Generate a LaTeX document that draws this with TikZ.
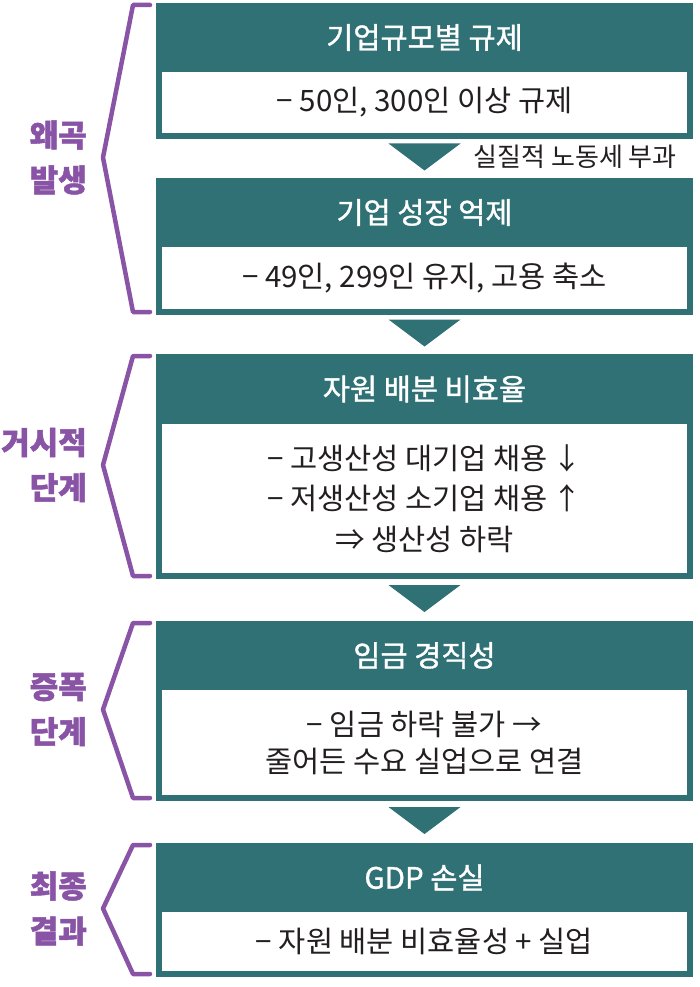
\documentclass[tikz,border=0pt]{standalone}
\usepackage{fontspec}
\setmainfont{Noto Sans CJK KR}
\newfontfamily\headfont{Noto Sans CJK KR}[FakeBold=1.2]
\newfontfamily\grpfont{Noto Sans CJK KR}[BoldFeatures={FakeBold=1.5}]
\usetikzlibrary{positioning,calc}
\definecolor{boxteal}{RGB}{47,113,116}
\definecolor{grppurple}{RGB}{137,84,166}
\definecolor{ink}{RGB}{35,31,32}
\tikzset{
  head/.style={fill=boxteal, text=white, minimum width=537pt, minimum height=69pt, inner sep=0pt, outer sep=0pt, font=\headfont\fontsize{29.5pt}{34pt}\selectfont},
  body/.style={fill=white, draw=boxteal, line width=6pt, minimum width=531pt, inner sep=0pt, outer sep=0pt, align=center, text=ink, font=\fontsize{29.5pt}{40.5pt}\selectfont},
  brk/.style={draw=grppurple, line width=4.5pt, line join=round, line cap=round},
  grp/.style={text=grppurple, align=right, inner sep=0pt, font=\grpfont\fontsize{31pt}{45pt}\selectfont\bfseries},
}
\begin{document}
\begin{tikzpicture}[x=1pt, y=-1pt]
\useasboundingbox (0,0) rectangle (700,987);
% boxes
\node[head] (h1) at (424.5,37.5) {기업규모별 규제};
\node[body, minimum height=67pt, below=-3pt of h1] (b1) {− 50인, 300인 이상 규제};
\node[head] (h2) at (424.5,212.5) {기업 성장 억제};
\node[body, minimum height=68pt, below=-3pt of h2] (b2) {− 49인, 299인 유지, 고용 축소};
\node[head, minimum height=70pt] (h3) at (424.5,389) {자원 배분 비효율};
\node[body, minimum height=155pt, below=-3pt of h3] (b3) {− 고생산성 대기업 채용\,↓\\− 저생산성 소기업 채용\,↑\\⇒ 생산성 하락};
\node[head] (h4) at (424.5,655.5) {임금 경직성};
\node[body, minimum height=111pt, below=-3pt of h4, font=\fontsize{29.5pt}{37pt}\selectfont] (b4) {− 임금 하락 불가 →\\줄어든 수요 실업으로 연결};
\node[head] (h5) at (424.5,877.5) {GDP 손실};
\node[body, minimum height=65pt, below=-3pt of h5] (b5) {− 자원 배분 비효율성 + 실업};
% arrows
\foreach \u/\v in {b1/h2, b2/h3, b3/h4, b4/h5}
  \fill[boxteal] ($(\u.south)!.5!(\v.north)$) ++(-36,-13.5) -- ++(72,0) -- ++(-36,27) -- cycle;
\node[anchor=west, inner sep=0pt, text=ink, font=\fontsize{26pt}{30pt}\selectfont] (tax) at ($(b1.south)!.5!(h2.north)+(49,0)$) {실질적 노동세 부과};
% brackets
\coordinate (e) at (150,0); \coordinate (k) at (133,0); \coordinate (p) at (103,0);
\foreach \t/\b/\la/\lb in {h1/b2/왜곡/발생, h3/b3/거시적/단계, h4/b4/증폭/단계, h5/b5/최종/결과} {
  \draw[brk] ($(\t.north -| e)+(0,2)$) -- ($(\t.north -| k)+(0,2)$) -- ($(\t.north -| p)!.5!(\b.south -| p)$) -- (\b.south -| k) -- (\b.south -| e);
  \node[grp, anchor=east] (g\t) at ($(\t.north -| p)!.5!(\b.south -| p)+(-16,0)$) {\la\\\lb};
}
\end{tikzpicture}
\end{document}
